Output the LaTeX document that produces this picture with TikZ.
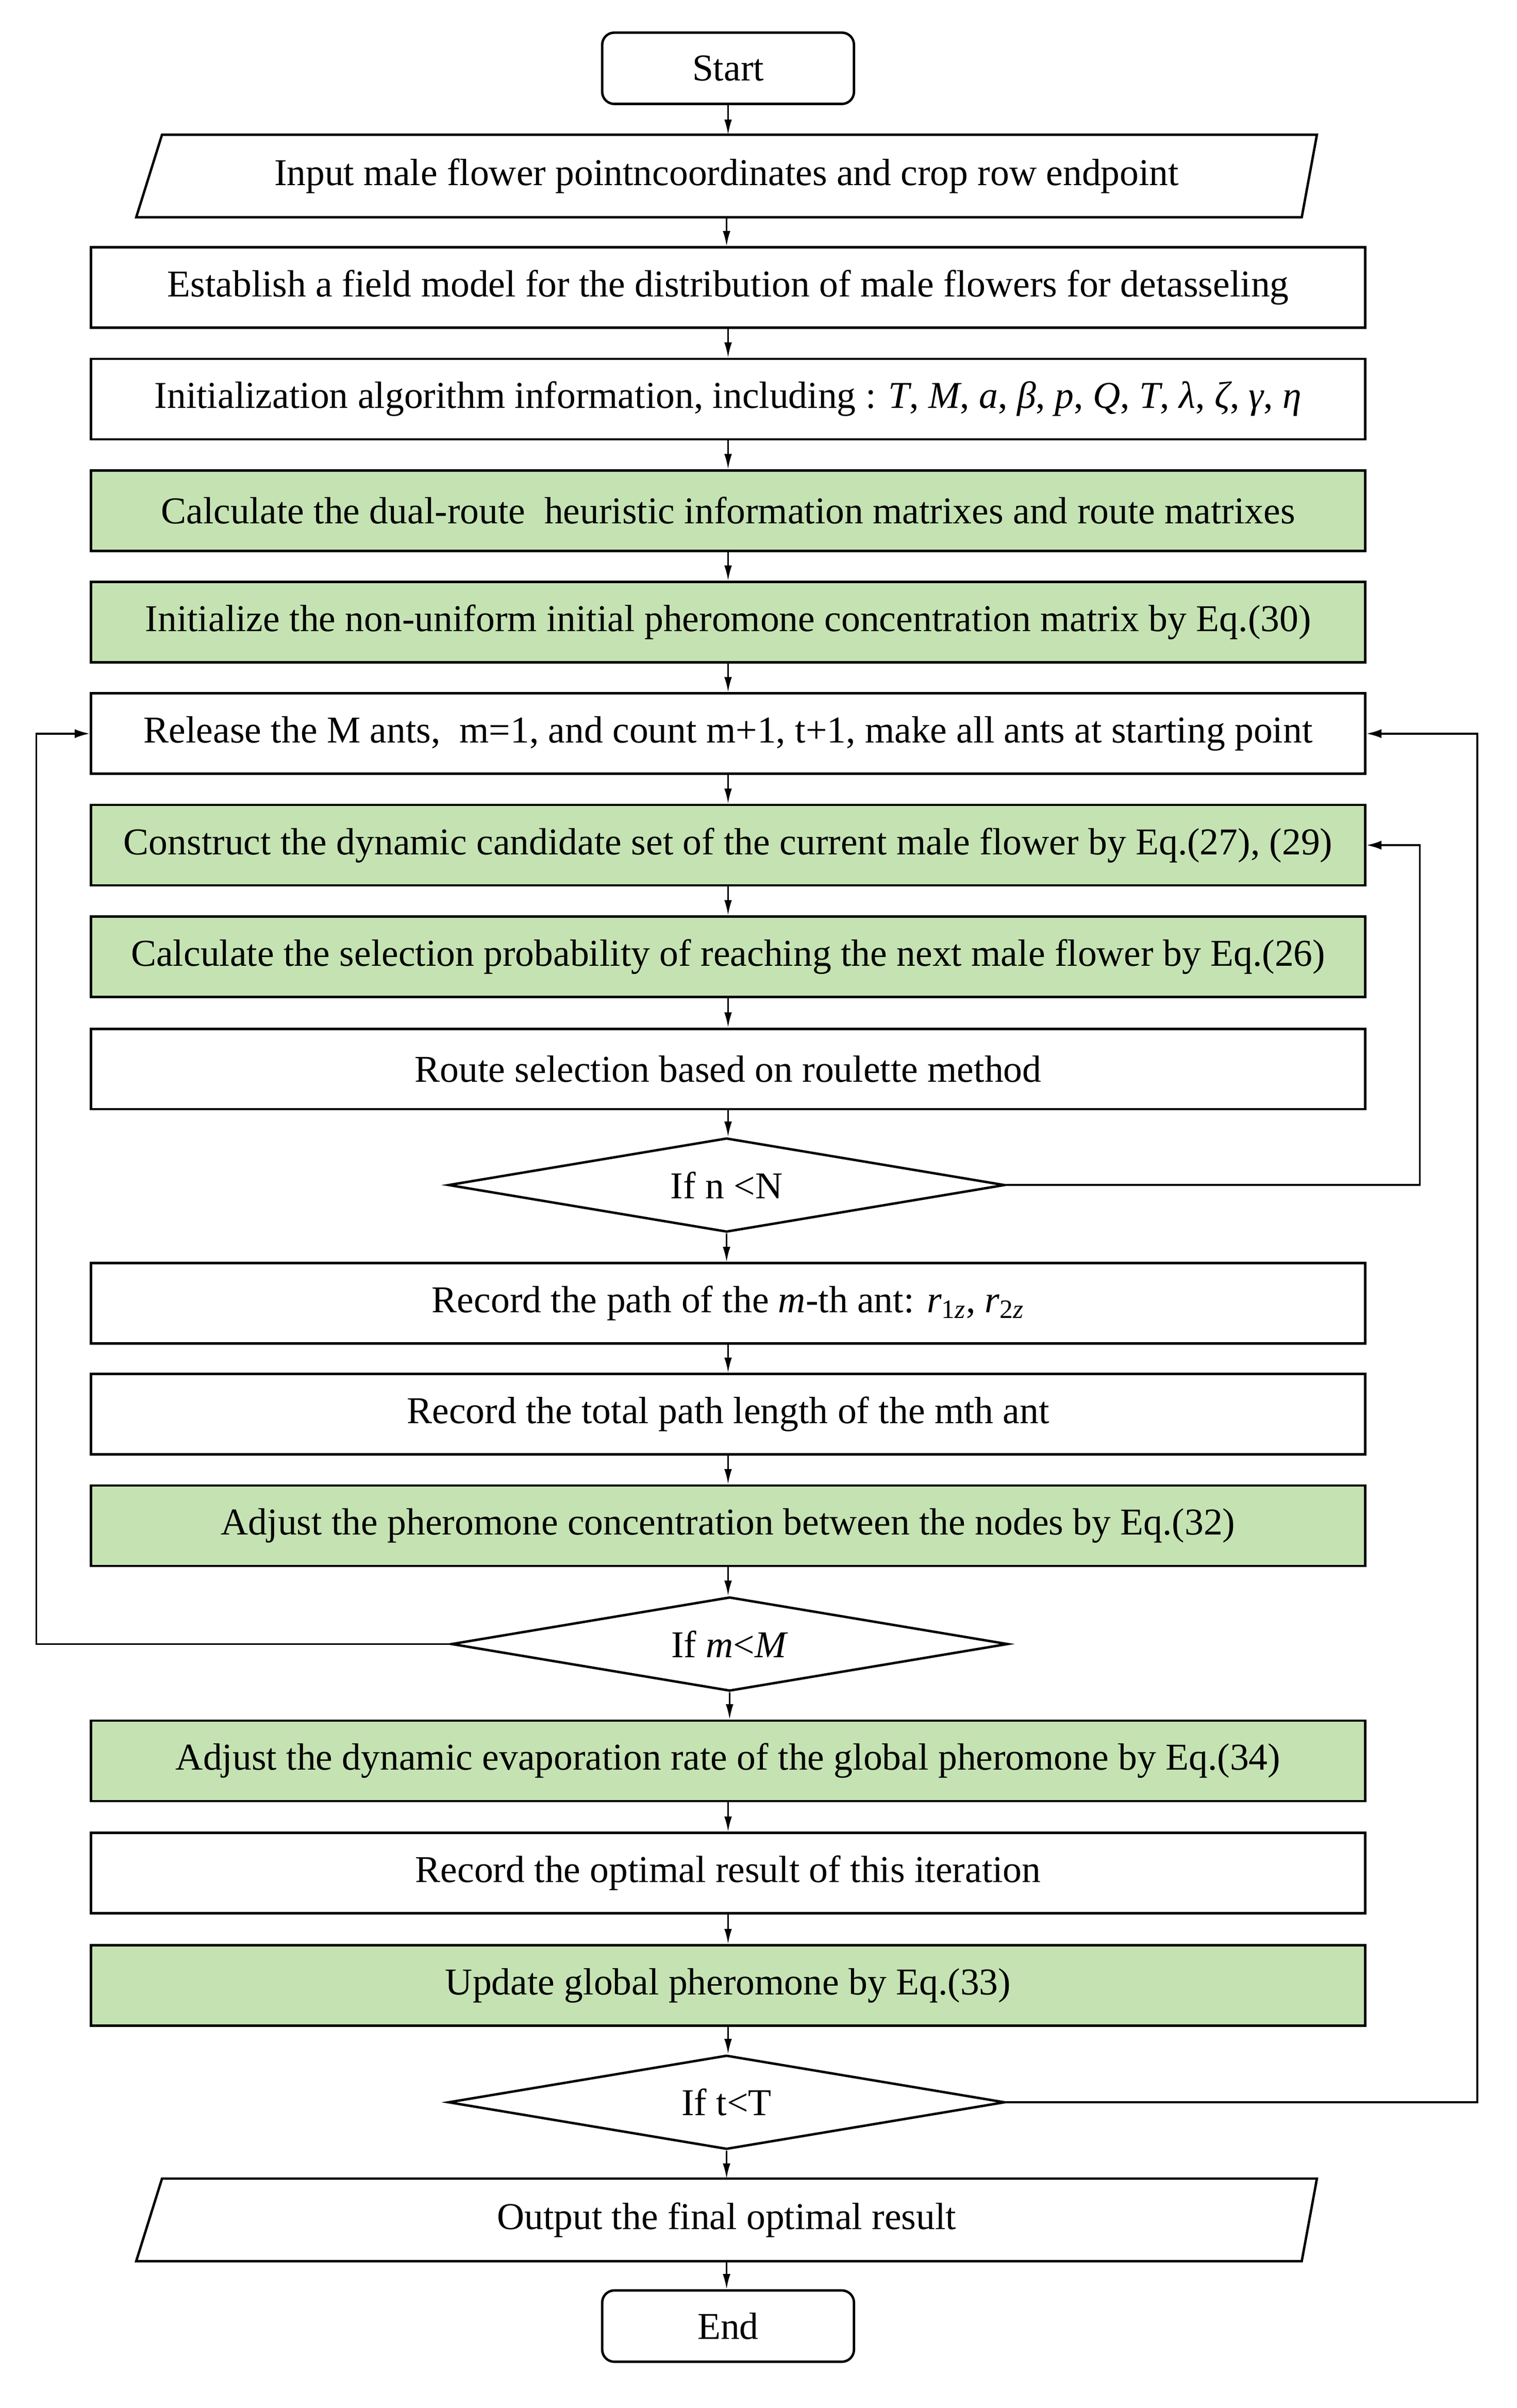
\documentclass[tikz,border=0pt]{standalone}
\usepackage{fontspec}
\setmainfont{Liberation Serif}
\usetikzlibrary{shapes.geometric,arrows.meta}
\definecolor{boxgreen}{RGB}{197,227,178}
\begin{document}
\begin{tikzpicture}[x=1pt,y=-1pt,
  font=\fontsize{25}{29}\selectfont,
  box/.style={draw,line width=1.6pt,minimum width=840pt,minimum height=53pt,inner sep=0pt},
  gbox/.style={box,fill=boxgreen},
  term/.style={draw,line width=1.6pt,rounded corners=8pt,minimum width=166pt,minimum height=47pt,inner sep=0pt},
  dec/.style={draw,diamond,aspect=6,line width=1.6pt,minimum width=367pt,minimum height=62pt,inner sep=0pt},
  io/.style={minimum width=778pt,minimum height=54pt,inner sep=0pt},
  arr/.style={line width=1pt,-{Latex[length=10pt,width=5pt]}},
  loopline/.style={line width=1.2pt,-{Latex[length=10pt,width=6pt]}}]
\useasboundingbox (0,0) rectangle (1000,1587);
\node[term] (start) at (480,45) {Start};
\node[io] (inp) at (479,116) {Input male flower pointncoordinates and crop row endpoint};
\draw[line width=1.6pt] ([xshift=17pt]inp.north west) -- (inp.north east) -- ([xshift=-10pt]inp.south east) -- (inp.south west) -- cycle;
\node[box] (est) at (480,189.5) {Establish a field model for the distribution of male flowers for detasseling};
\node[box] (ini) at (480,263) {Initialization algorithm information, including : \textit{T}, \textit{M}, \textit{a}, \textit{β}, \textit{p}, \textit{Q}, \textit{T}, \textit{λ}, \textit{ζ}, \textit{γ}, \textit{η}};
\node[gbox] (dual) at (480,336.5) {Calculate the dual-route \ heuristic information matrixes and route matrixes};
\node[gbox] (nonu) at (480,410) {Initialize the non-uniform initial pheromone concentration matrix by Eq.(30)};
\node[box] (rel) at (480,483.5) {Release the M ants, \ m=1, and count m+1, t+1, make all ants at starting point};
\node[gbox] (con) at (480,557) {Construct the dynamic candidate set of the current male flower by Eq.(27), (29)};
\node[gbox] (sel) at (480,630.5) {Calculate the selection probability of reaching the next male flower by Eq.(26)};
\node[box] (rou) at (480,704.5) {Route selection based on roulette method};
\node[dec] (dn) at (479,781) {If n <N};
\node[box] (rpath) at (480,859) {Record the path of the \textit{m}-th ant: \textit{r}\textsubscript{1\textit{z}}, \textit{r}\textsubscript{2\textit{z}}};
\node[box] (rlen) at (480,932) {Record the total path length of the mth ant};
\node[gbox] (adj) at (480,1005.5) {Adjust the pheromone concentration between the nodes by Eq.(32)};
\node[dec] (dm) at (481,1083.5) {If \textit{m}<\textit{M}};
\node[gbox] (evap) at (480,1160.5) {Adjust the dynamic evaporation rate of the global pheromone by Eq.(34)};
\node[box] (ropt) at (480,1234.5) {Record the optimal result of this iteration};
\node[gbox] (upd) at (480,1308.5) {Update global pheromone by Eq.(33)};
\node[dec] (dt) at (479,1385.5) {If t<T};
\node[io] (out) at (479,1463) {Output the final optimal result};
\draw[line width=1.6pt] ([xshift=17pt]out.north west) -- (out.north east) -- ([xshift=-10pt]out.south east) -- (out.south west) -- cycle;
\node[term] (fin) at (480,1533) {End};
\coordinate (lx) at (24,0);
\coordinate (rx) at (974,0);
\coordinate (nx) at (936,0);
\draw[arr] (start) -- (start|-inp.north);
\draw[arr] (inp) -- (inp|-est.north);
\draw[arr] (est) -- (ini);
\draw[arr] (ini) -- (dual);
\draw[arr] (dual) -- (nonu);
\draw[arr] (nonu) -- (rel);
\draw[arr] (rel) -- (con);
\draw[arr] (con) -- (sel);
\draw[arr] (sel) -- (rou);
\draw[arr] (rou) -- (rou|-dn.north);
\draw[arr] (dn) -- (dn|-rpath.north);
\draw[arr] (rpath) -- (rlen);
\draw[arr] (rlen) -- (adj);
\draw[arr] (adj) -- (adj|-dm.north);
\draw[arr] (dm) -- (dm|-evap.north);
\draw[arr] (evap) -- (ropt);
\draw[arr] (ropt) -- (upd);
\draw[arr] (upd) -- (upd|-dt.north);
\draw[arr] (dt) -- (dt|-out.north);
\draw[arr] (out) -- (out|-fin.north);
\draw[loopline] (dn.east) -- (dn.east-|nx) |- (con.east);
\draw[loopline] (dm.west) -- (dm.west-|lx) |- (rel.west);
\draw[loopline] (dt.east) -- (dt.east-|rx) |- (rel.east);
\end{tikzpicture}
\end{document}
